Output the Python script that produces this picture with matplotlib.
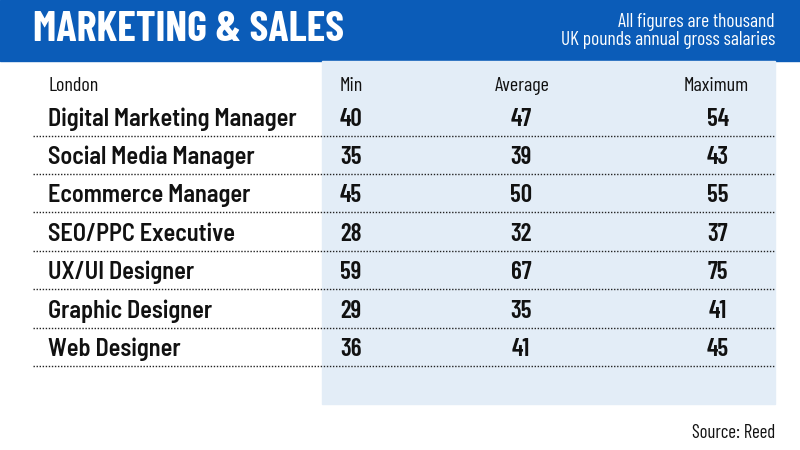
import matplotlib
matplotlib.use("Agg")
import matplotlib.pyplot as plt
from matplotlib.patches import Rectangle

# Table content
title = "MARKETING & SALES"
note = "All figures are thousand\nUK pounds annual gross salaries"
source = "Source: Reed"
region = "London"
columns = ["Min", "Average", "Maximum"]
roles = ["Digital Marketing Manager", "Social Media Manager", "Ecommerce Manager",
         "SEO/PPC Executive", "UX/UI Designer", "Graphic Designer", "Web Designer"]
min_pay = [40, 35, 45, 28, 59, 29, 36]
avg_pay = [47, 39, 50, 32, 67, 35, 41]
max_pay = [54, 43, 55, 37, 75, 41, 45]

BLUE = "#0b5cb8"
PANEL = "#e3edf7"
INK = "#111111"
FONT = ["Barlow Condensed", "Roboto", "DejaVu Sans"]
FONT_ROW = ["Barlow Semi Condensed", "Barlow Condensed", "Roboto", "DejaVu Sans"]

fig = plt.figure(figsize=(8, 4.5), dpi=100)
ax = fig.add_axes([0, 0, 1, 1])
ax.set_xlim(0, 800)
ax.set_ylim(450, 0)
ax.axis("off")

# header banner and shaded value panel
ax.add_patch(Rectangle((0, 0), 800, 61, color=BLUE, zorder=0))
ax.add_patch(Rectangle((322, 61), 453, 343, color=PANEL, zorder=0))

ax.text(33, 30, title, color="white", fontsize=30.5, fontweight="bold",
        family=FONT, va="center", ha="left")
ax.text(775, 31, note, color="white", fontsize=14, family=FONT,
        va="center", ha="right", linespacing=1.05)

col_x = [340, 521, 718]
col_ha = ["left", "center", "center"]
hdr_x = [340, 522, 716]

ax.text(48, 86, region, fontsize=14.5, family=FONT, va="center", ha="left", color=INK)
for x, ha, c in zip(hdr_x, col_ha, columns):
    ax.text(x, 86, c, fontsize=14.5, family=FONT, va="center", ha=ha, color=INK)

row_y0, row_h = 119, 38.4
for i, role in enumerate(roles):
    y = row_y0 + i * row_h
    ax.text(48, y, role, fontsize=17.5, fontweight="semibold", family=FONT_ROW,
            va="center", ha="left", color=INK)
    for x, ha, v in zip(col_x, col_ha, (min_pay[i], avg_pay[i], max_pay[i])):
        ax.text(x, y, str(v), fontsize=18, fontweight="semibold", family=FONT,
                va="center", ha=ha, color=INK)
    ax.plot([33, 775], [y + 16.5, y + 16.5], color="#222222", lw=1.0,
            linestyle=(0, (1, 1.2)), solid_capstyle="butt")

ax.text(775, 433, source, fontsize=13.5, family=FONT, va="center", ha="right", color=INK)

fig.savefig("out.png", dpi=100)
